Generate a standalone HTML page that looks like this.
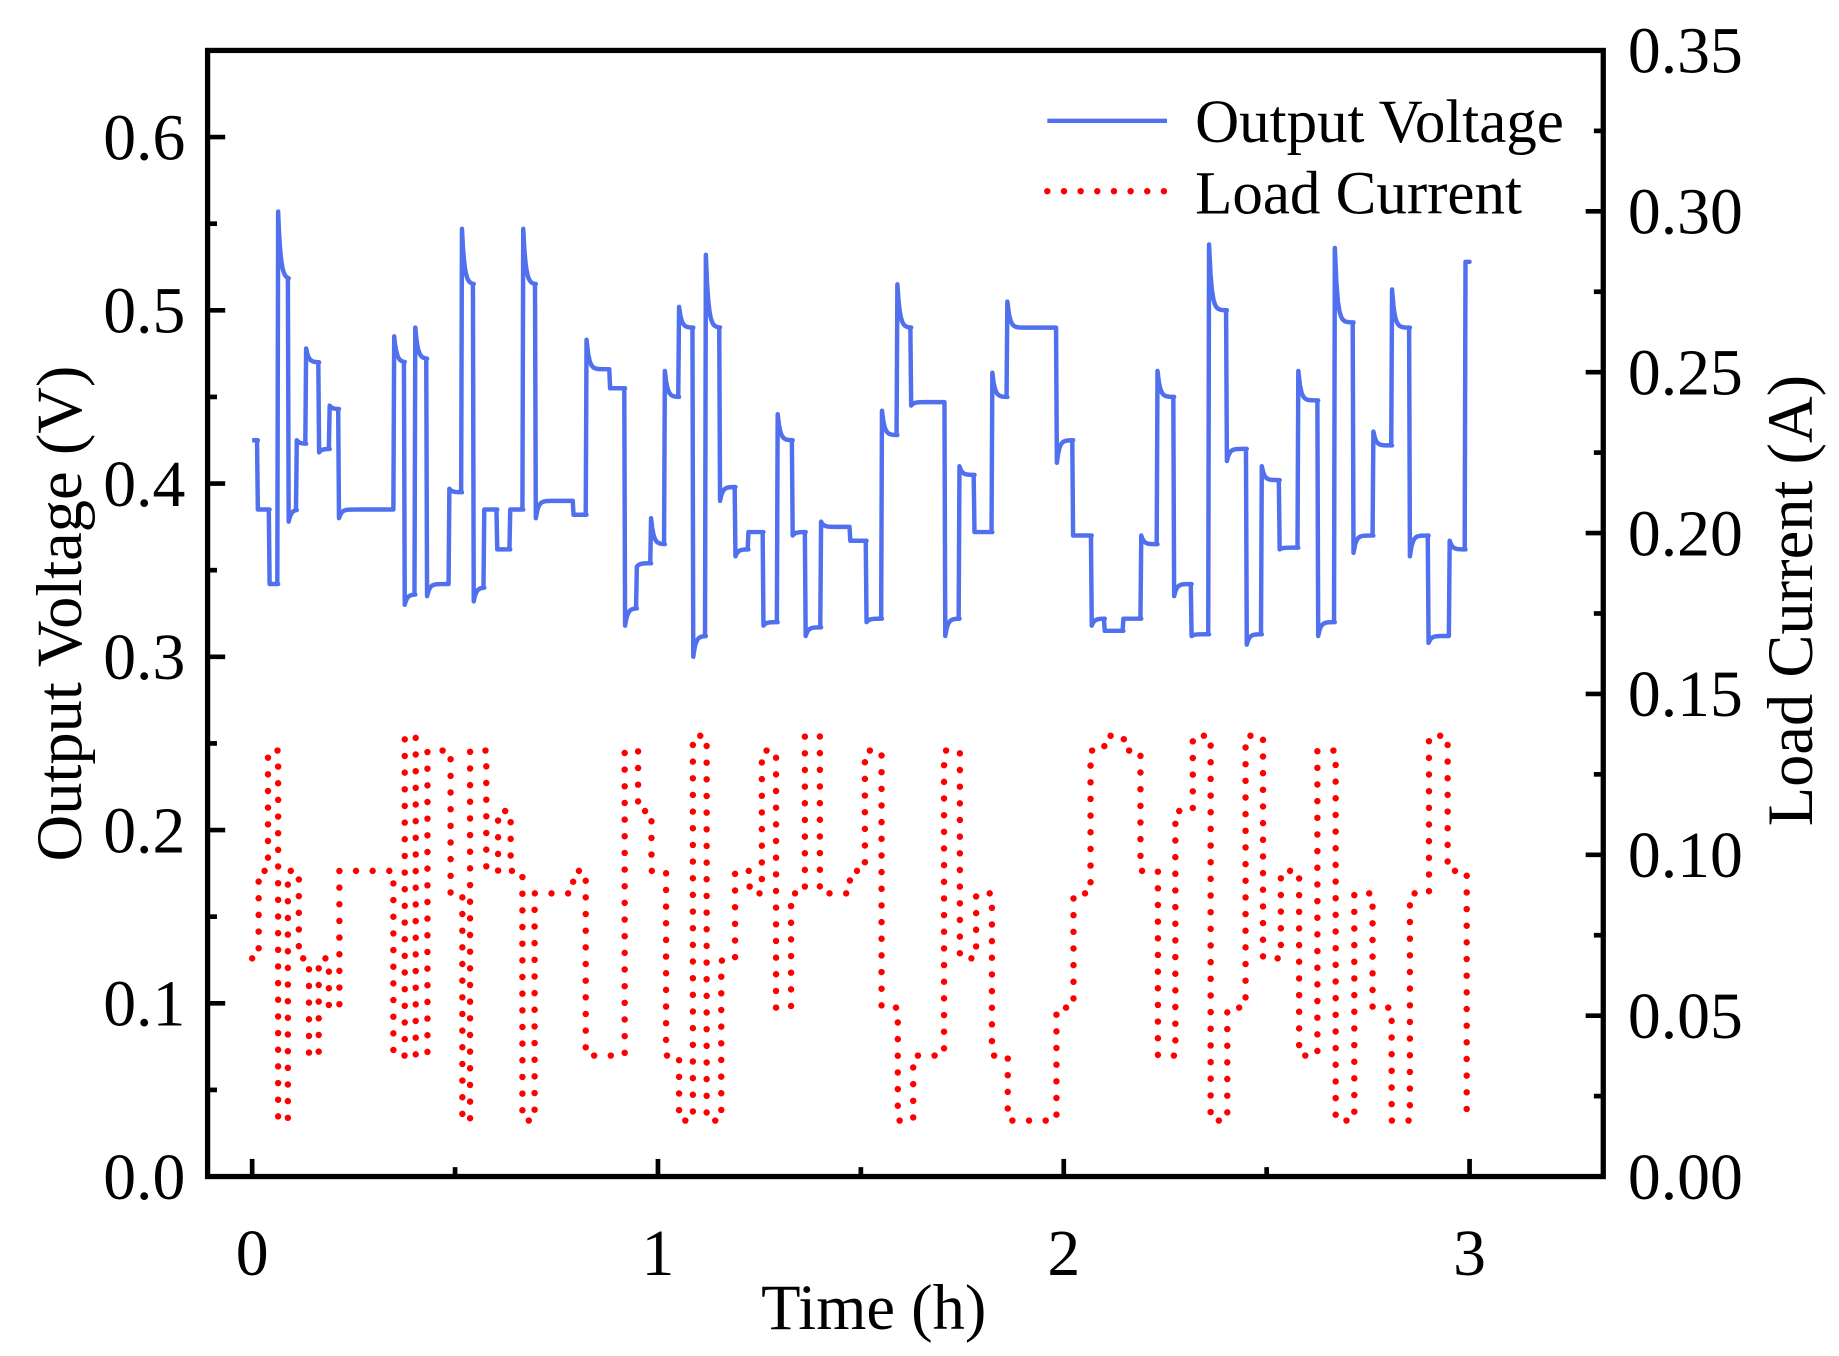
<!DOCTYPE html>
<html><head><meta charset="utf-8"><style>
html,body{margin:0;padding:0;background:#fff;}
svg{display:block;font-family:"Liberation Serif",serif;}
</style></head><body>
<svg id="chart" width="1839" height="1356" viewBox="0 0 1568 1156" preserveAspectRatio="none" xmlns="http://www.w3.org/2000/svg">
<rect width="1568" height="1156" fill="#fff"/>
<g id="plot"></g>
<g id="axes"></g>
</svg>
<script>
// ---- data ----
const vTimes = [0,0.014,0.043,0.064,0.090,0.110,0.133,0.165,0.191,0.214,0.350,0.376,0.402,0.431,0.486,0.517,0.546,0.572,0.604,0.636,0.668,0.699,0.792,0.824,0.882,0.919,0.948,0.983,1.017,1.052,1.087,1.118,1.153,1.191,1.223,1.260,1.295,1.332,1.364,1.402,1.474,1.514,1.552,1.590,1.624,1.708,1.743,1.780,1.824,1.861,1.983,2.023,2.069,2.101,2.147,2.191,2.231,2.272,2.315,2.358,2.402,2.451,2.488,2.532,2.578,2.627,2.668,2.714,2.763,2.809,2.853,2.899,2.951,2.990];
const vPeaks = [0.425,0.385,0.342,0.557,0.378,0.425,0.478,0.418,0.445,0.380,0.485,0.330,0.490,0.335,0.397,0.547,0.332,0.385,0.362,0.385,0.547,0.380,0.382,0.483,0.455,0.318,0.352,0.380,0.465,0.502,0.300,0.532,0.390,0.358,0.372,0.318,0.440,0.370,0.312,0.378,0.367,0.320,0.442,0.515,0.445,0.312,0.410,0.372,0.464,0.505,0.412,0.370,0.318,0.315,0.322,0.370,0.465,0.335,0.312,0.538,0.413,0.307,0.410,0.362,0.465,0.312,0.536,0.360,0.430,0.512,0.358,0.308,0.367,0.528];
const vLevels = [0.425,0.385,0.342,0.518,0.385,0.423,0.470,0.420,0.443,0.385,0.470,0.336,0.472,0.342,0.395,0.515,0.340,0.385,0.362,0.385,0.515,0.390,0.382,0.466,0.455,0.328,0.354,0.365,0.450,0.490,0.312,0.490,0.398,0.362,0.372,0.320,0.425,0.372,0.317,0.375,0.367,0.322,0.428,0.490,0.447,0.322,0.405,0.372,0.450,0.490,0.425,0.370,0.322,0.315,0.322,0.365,0.450,0.342,0.313,0.500,0.420,0.313,0.402,0.363,0.448,0.320,0.493,0.370,0.422,0.490,0.370,0.312,0.362,0.528];
const cTimes = [0,0.016,0.039,0.064,0.088,0.115,0.140,0.164,0.189,0.215,0.348,0.376,0.403,0.432,0.489,0.518,0.537,0.577,0.606,0.637,0.666,0.696,0.791,0.822,0.918,0.951,0.984,1.020,1.052,1.086,1.120,1.156,1.190,1.226,1.256,1.291,1.328,1.362,1.399,1.473,1.510,1.551,1.591,1.629,1.705,1.744,1.784,1.823,1.862,1.982,2.024,2.066,2.100,2.148,2.189,2.232,2.275,2.318,2.362,2.403,2.448,2.491,2.535,2.580,2.625,2.670,2.716,2.761,2.808,2.853,2.900,2.946,2.993];
const cValues = [0.0678,0.095,0.1324,0.0174,0.095,0.0678,0.0376,0.0678,0.0525,0.095,0.0376,0.137,0.0376,0.1324,0.088,0.0174,0.1324,0.095,0.1136,0.095,0.0174,0.088,0.095,0.0376,0.1324,0.1136,0.095,0.0376,0.0174,0.137,0.0174,0.0671,0.095,0.088,0.1324,0.0525,0.088,0.137,0.088,0.095,0.1324,0.0525,0.0174,0.0376,0.1324,0.0678,0.088,0.0376,0.0174,0.0525,0.088,0.1324,0.137,0.1324,0.095,0.0376,0.1136,0.137,0.0174,0.0525,0.137,0.0678,0.095,0.0376,0.1324,0.0174,0.088,0.0525,0.0174,0.088,0.137,0.095,0.0174];
const xTicks = ["0","1","2","3"];
const yLeftTicks = ["0.0","0.1","0.2","0.3","0.4","0.5","0.6"];
const yRightTicks = ["0.00","0.05","0.10","0.15","0.20","0.25","0.30","0.35"];

// ---- scales ----
const L=177,R=1367,T=43,B=1003;
const xs = t => 215 + t*346;
const yV = v => B - v*(B-T)/0.65;
const yI = i => B - i*(B-T)/0.35;
const NS="http://www.w3.org/2000/svg";
function mk(tag, attrs, parent){const e=document.createElementNS(NS,tag);for(const k in attrs)e.setAttribute(k,attrs[k]);parent.appendChild(e);return e;}
const plot=document.getElementById('plot'), axes=document.getElementById('axes');

// current (dotted steps)
let cd="";
for(let i=0;i<cTimes.length;i++){
  const x=xs(cTimes[i]);
  if(i===0) cd+=`M${x},${yI(cValues[0])}`;
  else cd+=`L${x},${yI(cValues[i-1])}L${x},${yI(cValues[i])}`;
}
cd+=`L${xs(3.0)},${yI(cValues[cValues.length-1])}`;
const cp=mk('path',{d:cd,fill:'none',stroke:'#ff0000','stroke-width':5.5,'stroke-dasharray':'0 14.2','stroke-linecap':'round','stroke-linejoin':'round'},plot);



// voltage
let vd="";
const tau=0.006;
for(let i=0;i<vTimes.length;i++){
  const t0=vTimes[i], t1=(i<vTimes.length-1)?vTimes[i+1]:3.0;
  if(i===0) vd+=`M${xs(t0)},${yV(vPeaks[0])}`;
  else vd+=`L${xs(t0)},${yV(vPeaks[i])}`;
  const n=12;
  for(let k=1;k<=n;k++){
    const t=t0+(t1-t0)*k/n*Math.min(1,0.05/(t1-t0)) ;
    const v=vLevels[i]+(vPeaks[i]-vLevels[i])*Math.exp(-(t-t0)/tau);
    vd+=`L${xs(t)},${yV(v)}`;
  }
  vd+=`L${xs(t1-0.002)},${yV(vLevels[i])}`;
}
const vp=mk('path',{d:vd,fill:'none',stroke:'#5070ee','stroke-width':3.8,'stroke-linejoin':'round'},plot);



// frame
const fr=mk('rect',{x:L,y:T,width:R-L,height:B-T,fill:'none',stroke:'#000','stroke-width':4.5},axes);



// x ticks
for(let i=0;i<=6;i++){
  const t=i*0.5, x=xs(t), major=i%2===0;
  const tk=mk('line',{x1:x,x2:x,y1:B,y2:B-(major?15:8),stroke:'#000','stroke-width':4},axes);
  
  
}
xTicks.forEach((s,i)=>{
  const tx=mk('text',{x:xs(i),y:1087,'font-size':56,'text-anchor':'middle'},axes);
  tx.textContent=s;
  
  
});
// left ticks
for(let i=0;i<=13;i++){
  const v=i*0.05, y=yV(v), major=i%2===0;
  const tk=mk('line',{x1:L,x2:L+(major?15:8),y1:y,y2:y,stroke:'#000','stroke-width':4},axes);
  
  
}
yLeftTicks.forEach((s,i)=>{
  const tx=mk('text',{x:158,y:yV(i*0.1)+19,'font-size':56,'text-anchor':'end'},axes);
  tx.textContent=s;
  
  
});
// right ticks
for(let i=0;i<=14;i++){
  const v=i*0.025, y=yI(v), major=i%2===0;
  const tk=mk('line',{x1:R,x2:R-(major?15:8),y1:y,y2:y,stroke:'#000','stroke-width':4},axes);
  
  
}
yRightTicks.forEach((s,i)=>{
  const tx=mk('text',{x:1388,y:yI(i*0.05)+19,'font-size':56,'text-anchor':'start'},axes);
  tx.textContent=s;
  
  
});
</script>
<svg style="position:absolute;left:0;top:0" width="1839" height="1356" viewBox="0 0 1568 1156" preserveAspectRatio="none" xmlns="http://www.w3.org/2000/svg" font-family="Liberation Serif, serif">
<text x="745" y="1133" font-size="55" text-anchor="middle">Time (h)</text>
<text transform="translate(69,523) rotate(-90)" font-size="55" text-anchor="middle">Output Voltage (V)</text>
<text transform="translate(1545,512) rotate(-90)" font-size="55" text-anchor="middle">Load Current (A)</text>
<g>
<line x1="893" x2="995" y1="103" y2="103" stroke="#5070ee" stroke-width="3.8"/>
<text x="1019" y="121" font-size="52">Output Voltage</text>
<line x1="893" x2="995" y1="163" y2="163" stroke="#ff0000" stroke-width="5.5" stroke-dasharray="0 14.2" stroke-linecap="round"/>
<text x="1019" y="182" font-size="52">Load Current</text>
</g>
</svg>
</body></html>
